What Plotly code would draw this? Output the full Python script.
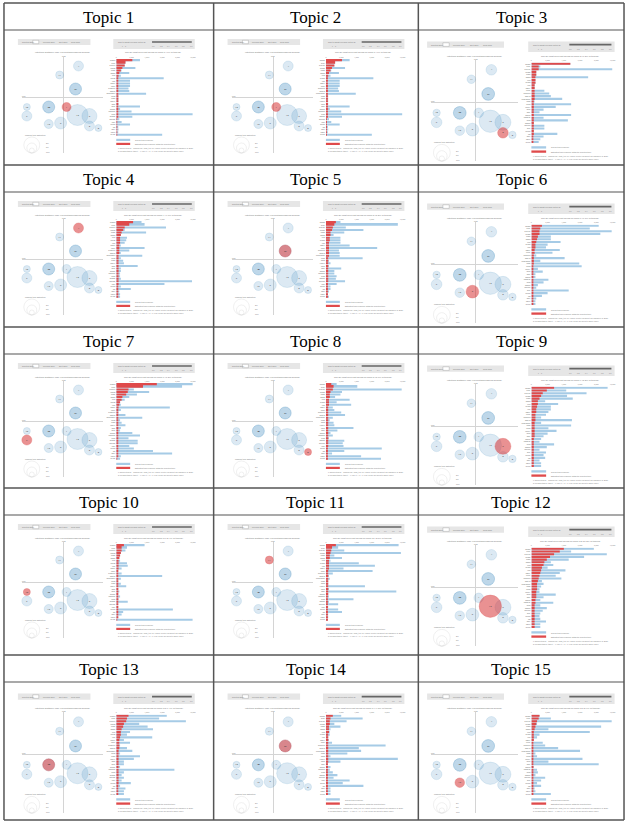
import plotly.graph_objects as go

W, H = 629, 822
COL_L = [3, 214, 420]
COL_R = [214, 420, 627]
ROW_T = [3, 165, 327, 488, 655]
BOTTOM = 820
HEAD_H = 27

HEADERS = [f"Topic {i}" for i in range(1, 16)]
# topic highlighted (red) in each screenshot; panel 2 repeats topic 1's view
SELECTED = [1, 1, 3, 4, 5, 6, 7, 8, 9, 10, 11, 12, 13, 14, 15]
TOKEN_PCT = ["4%", "4%", "6.3%", "4.6%", "5.2%", "6.7%", "7.3%", "5.6%", "8.2%",
             "3.4%", "3.7%", "10.2%", "9.4%", "4.8%", "5.9%"]

# Intertopic distance map (bubble positions in PC units, radii in px)
BUB_TOPIC = [4, 11, 5, 14, 10, 13, 2, 1, 7, 15, 6, 12, 9, 3, 8]
BUB_PC1 = [15, -4, 12, 12, -37, -15, -15, 3, -37, -15, -3, 14, 26, 26, 35]
BUB_PC2 = [31, 22, 8, 8, -10, -10, -10, -10, -19, -27, -26, -18, -19, -29, -31]
BUB_R = [5, 4, 6, 6, 3.5, 6, 6, 4.5, 5, 4.5, 6, 10.5, 7.5, 5, 3.5]

TERMS = ["game", "play", "player", "team", "time", "good", "fun", "great", "like",
         "story", "level", "graphic", "world", "character", "new", "best", "really",
         "love", "way", "make", "control", "first", "mode", "online", "feel",
         "thing", "lot", "well", "hour", "price"]

# bar values (percent of the bar-axis width)
OVERALL_1 = [31, 12, 11, 25, 7, 17, 6, 62, 18, 18, 18, 16, 17, 39, 3, 3, 3, 3, 31, 5, 20, 100, 21, 4, 7, 18, 2, 3, 2, 60]
TOPIC_1 = [21, 12, 11, 8, 6, 4, 3, 2, 2, 2, 2, 2, 2, 2, 1.5, 1.5, 1.5, 1.5, 1.5, 1.5, 1.5, 1.5, 1.5, 1, 1, 1, 1, 1, 1, 1]
OVERALL_2 = [31, 12, 11, 25, 7, 17, 6, 62, 18, 18, 18, 16, 17, 39, 3, 3, 3, 3, 31, 5, 20, 100, 21, 4, 7, 18, 2, 3, 2, 60]
TOPIC_2 = [21, 12, 11, 8, 6, 4, 3, 2, 2, 2, 2, 2, 2, 2, 1.5, 1.5, 1.5, 1.5, 1.5, 1.5, 1.5, 1.5, 1.5, 1, 1, 1, 1, 1, 1, 1]
OVERALL_3 = [48, 11, 100, 6, 6, 70, 5, 5, 4, 4, 16, 22, 24, 38, 4, 49, 30, 15, 10, 49, 15, 45, 3, 16, 16, 3, 32, 15, 11, 9]
TOPIC_3 = [48, 9, 9, 6, 6, 5, 5, 5, 4, 4, 4, 4, 4, 4, 3, 3, 3, 3, 3, 3, 3, 3, 3, 3, 3, 3, 3, 2, 2, 2]
OVERALL_4 = [33, 37, 65, 11, 39, 6, 14, 13, 11, 6, 37, 17, 6, 34, 6, 9, 10, 28, 6, 6, 5, 5, 6, 99, 63, 6, 19, 4, 5, 5]
TOPIC_4 = [22, 17, 11, 9, 7, 6, 5, 5, 5, 4, 4, 4, 4, 3, 3, 3, 3, 3, 3, 3, 3, 3, 3, 3, 3, 2, 2, 2, 2, 2]
OVERALL_5 = [19, 94, 26, 49, 24, 10, 19, 19, 19, 31, 67, 17, 18, 18, 48, 4, 6, 4, 20, 11, 11, 14, 13, 25, 14, 6, 6, 4, 2, 4]
TOPIC_5 = [13, 11, 9, 8, 6, 6, 5, 5, 4, 4, 4, 4, 4, 4, 3, 3, 3, 3, 3, 3, 3, 3, 3, 3, 2, 2, 2, 2, 2, 2]
OVERALL_6 = [83, 72, 99, 85, 24, 24, 36, 20, 18, 35, 26, 6, 41, 11, 59, 62, 8, 14, 5, 5, 21, 15, 8, 6, 46, 20, 13, 6, 5, 5]
TOPIC_6 = [13, 11, 10, 10, 8, 7, 6, 5, 5, 4, 4, 3, 3, 3, 3, 2, 2, 2, 2, 2, 2, 2, 2, 2, 2, 2, 2, 2, 2, 2]
OVERALL_7 = [100, 86, 23, 43, 27, 17, 11, 5, 6, 70, 6, 3, 12, 34, 5, 7, 12, 6, 5, 21, 31, 16, 28, 28, 17, 23, 48, 73, 6, 5]
TOPIC_7 = [53, 35, 16, 15, 13, 8, 7, 5, 4, 3, 2, 2, 2, 2, 2, 2, 2, 2, 2, 2, 2, 2, 2, 2, 2, 2, 2, 2, 2, 1]
OVERALL_8 = [14, 41, 99, 21, 19, 12, 31, 14, 33, 9, 11, 20, 25, 9, 5, 10, 11, 36, 15, 6, 9, 4, 24, 22, 23, 73, 24, 8, 46, 72]
TOPIC_8 = [7, 10, 9, 6, 5, 5, 4, 4, 4, 3, 3, 3, 3, 3, 3, 3, 3, 3, 3, 3, 3, 3, 3, 3, 3, 2, 2, 2, 2, 2]
OVERALL_9 = [94, 43, 68, 44, 51, 17, 33, 24, 24, 21, 18, 12, 50, 12, 49, 21, 31, 20, 15, 12, 10, 28, 19, 10, 18, 15, 17, 10, 12, 12]
TOPIC_9 = [28, 19, 14, 12, 10, 8, 8, 7, 6, 6, 5, 5, 5, 4, 4, 4, 4, 4, 4, 3, 3, 3, 3, 3, 3, 3, 3, 3, 3, 3]
OVERALL_10 = [37, 14, 12, 6, 5, 4, 5, 14, 15, 7, 2, 7, 60, 6, 2, 6, 13, 2, 4, 2, 5, 3, 15, 2, 2, 74, 9, 7, 2, 100]
TOPIC_10 = [10, 7, 7, 6, 5, 4, 3, 3, 3, 3, 2, 2, 2, 2, 2, 2, 2, 2, 2, 2, 2, 2, 2, 2, 2, 2, 2, 2, 2, 1]
OVERALL_11 = [95, 16, 24, 98, 11, 21, 6, 43, 64, 23, 61, 9, 4, 5, 3, 3, 51, 4, 92, 3, 4, 36, 4, 16, 3, 16, 21, 3, 3, 2]
TOPIC_11 = [13, 8, 7, 6, 5, 5, 4, 4, 4, 4, 3, 3, 3, 3, 3, 3, 3, 3, 3, 3, 2, 2, 2, 2, 2, 2, 2, 2, 2, 2]
OVERALL_12 = [77, 49, 93, 65, 46, 24, 27, 20, 42, 35, 30, 37, 13, 15, 12, 10, 10, 30, 15, 11, 27, 11, 19, 14, 11, 10, 11, 18, 11, 11]
TOPIC_12 = [40, 35, 28, 23, 19, 16, 15, 13, 12, 11, 10, 9, 8, 7, 7, 7, 6, 6, 6, 5, 5, 4, 4, 4, 4, 4, 4, 4, 4, 4]
OVERALL_13 = [66, 56, 91, 30, 41, 48, 18, 14, 47, 10, 18, 5, 14, 21, 5, 31, 23, 10, 10, 5, 76, 10, 7, 10, 7, 19, 5, 12, 10, 10]
TOPIC_13 = [16, 14, 13, 10, 9, 7, 6, 6, 5, 4, 4, 4, 4, 3, 3, 3, 3, 3, 3, 3, 3, 3, 3, 3, 3, 3, 2, 2, 2, 2]
OVERALL_14 = [20, 48, 27, 11, 19, 6, 5, 5, 3, 4, 8, 78, 43, 46, 28, 6, 94, 19, 2, 6, 5, 9, 15, 10, 31, 22, 49, 6, 6, 6]
TOPIC_14 = [9, 6, 5, 5, 4, 4, 4, 3, 3, 3, 3, 3, 3, 3, 3, 3, 3, 3, 2, 2, 2, 2, 2, 2, 2, 2, 2, 2, 2, 2]
OVERALL_15 = [10, 24, 99, 7, 86, 21, 72, 10, 7, 3, 14, 17, 33, 60, 5, 7, 63, 21, 83, 3, 7, 8, 5, 17, 12, 7, 12, 4, 5, 24]
TOPIC_15 = [10, 9, 7, 6, 5, 4, 3, 3, 3, 3, 2, 2, 2, 2, 2, 2, 2, 2, 2, 2, 2, 2, 2, 2, 2, 2, 2, 2, 2, 2]

OVERALL = [OVERALL_1, OVERALL_2, OVERALL_3, OVERALL_4, OVERALL_5, OVERALL_6, OVERALL_7, OVERALL_8,
           OVERALL_9, OVERALL_10, OVERALL_11, OVERALL_12, OVERALL_13, OVERALL_14, OVERALL_15]
TOPICV = [TOPIC_1, TOPIC_2, TOPIC_3, TOPIC_4, TOPIC_5, TOPIC_6, TOPIC_7, TOPIC_8,
          TOPIC_9, TOPIC_10, TOPIC_11, TOPIC_12, TOPIC_13, TOPIC_14, TOPIC_15]

BAR_TICKVALS = [0, 20, 40, 60, 80, 100]
BAR_TICKTEXT = ["0", "2,000", "4,000", "6,000", "8,000", "10,000"]
SLIDER_TICKS = ["0.0", "0.2", "0.4", "0.6", "0.8", "1.0"]

BLUE_BUB = "rgba(31,119,180,0.22)"
BLUE_EDGE = "rgba(31,119,180,0.35)"
RED_BUB = "rgba(214,39,40,0.72)"
BAR_BLUE = "#a6cbe6"
BAR_RED = "#df4a4b"
GRAYBAR = "#e6e6e6"
TXT = "#777777"

fig = go.Figure()
shapes, annotations, lay = [], [], {}


def fx(x):
    return x / W


def fy(y):
    return 1 - y / H


def txt(x, y, s, size=2.3, color=TXT, anchor="center", font="Arial"):
    annotations.append(dict(x=fx(x), y=fy(y), xref="paper", yref="paper", text=s,
                            showarrow=False, xanchor=anchor, yanchor="middle",
                            font=dict(size=size, color=color, family=font)))


def rect(x0, y0, x1, y1, fill, line=None, lw=0):
    shapes.append(dict(type="rect", xref="paper", yref="paper", x0=fx(x0), x1=fx(x1),
                       y0=fy(y1), y1=fy(y0), fillcolor=fill,
                       line=dict(color=line or fill, width=lw), layer="below"))


def line(x0, y0, x1, y1, color, w):
    shapes.append(dict(type="line", xref="paper", yref="paper", x0=fx(x0), x1=fx(x1),
                       y0=fy(y0), y1=fy(y1), line=dict(color=color, width=w)))


# table grid
GRID = "#555555"
for t in ROW_T:
    line(COL_L[0], t, COL_R[2], t, GRID, 1.5)
    line(COL_L[0], t + HEAD_H, COL_R[2], t + HEAD_H, GRID, 1.2)
line(COL_L[0], BOTTOM, COL_R[2], BOTTOM, GRID, 1.5)
for x in [COL_L[0], COL_L[1], COL_L[2], COL_R[2]]:
    line(x, ROW_T[0], x, BOTTOM, GRID, 1.5)

for k in range(15):
    col, row = k % 3, k // 3
    x0 = COL_L[col]
    y0 = ROW_T[row] + HEAD_H
    sx, dx = (1.06, -6) if col == 2 else (1.0, 0)
    sy, dy = (1.05, 2) if (col == 2 or row == 4) else (1.0, 0)

    def X(v):
        return x0 + dx + sx * v

    def Y(v):
        return y0 + dy + sy * v

    # header
    txt((COL_L[col] + COL_R[col]) / 2, ROW_T[row] + HEAD_H / 2 + 1, HEADERS[k],
        size=17, color="black", font="Liberation Serif")

    # control bars
    rect(X(14), Y(9), X(87), Y(15), GRAYBAR)
    txt(X(16), Y(12), "Selected Topic:", size=1.8, anchor="left")
    rect(X(29), Y(10.3), X(35), Y(13.7), "white", "#999999", 0.4)
    txt(X(37), Y(12), "Previous Topic", size=1.8, anchor="left")
    txt(X(53), Y(12), "Next Topic", size=1.8, anchor="left")
    txt(X(65), Y(12), "Clear Topic", size=1.8, anchor="left")
    rect(X(110), Y(9), X(192), Y(19), GRAYBAR)
    txt(X(113), Y(12), "Slide to adjust relevance metric:(2)", size=1.8, anchor="left")
    txt(X(117), Y(16), "λ = 1", size=1.8, anchor="left")
    line(X(149), Y(12), X(189), Y(12), "#666666", 1.6)
    for i, s in enumerate(SLIDER_TICKS):
        txt(X(150 + 7.6 * i), Y(16.2), s, size=1.7)

    # titles
    txt(X(59), Y(22.5), "Intertopic Distance Map (via multidimensional scaling)", size=2.3)
    txt(X(150), Y(22.5), f"Top-30 Most Relevant Terms for Topic {SELECTED[k]} ({TOKEN_PCT[k]} of tokens)", size=2.3)

    # scatter (intertopic distance map)
    xs = "" if k == 0 else str(2 * k + 1)
    xb = str(2 * k + 2)
    sel = SELECTED[k]
    order = [i for i in range(len(BUB_TOPIC)) if BUB_TOPIC[i] != sel] + \
            [i for i in range(len(BUB_TOPIC)) if BUB_TOPIC[i] == sel]
    fig.add_trace(go.Scatter(
        x=[BUB_PC1[i] for i in order], y=[BUB_PC2[i] for i in order],
        mode="markers+text", text=[str(BUB_TOPIC[i]) for i in order],
        textfont=dict(size=2.5, color="#333333"), textposition="middle center",
        marker=dict(size=[2 * BUB_R[i] * sx for i in order],
                    color=[RED_BUB if BUB_TOPIC[i] == sel else BLUE_BUB for i in order],
                    line=dict(color=[RED_BUB if BUB_TOPIC[i] == sel else BLUE_EDGE for i in order], width=0.5)),
        cliponaxis=False, hoverinfo="skip", showlegend=False,
        xaxis="x" + xs, yaxis="y" + xs))
    lay["xaxis" + xs] = dict(domain=[fx(X(18)), fx(X(100))], range=[-42, 40], anchor="y" + xs,
                             showgrid=False, zeroline=True, zerolinecolor="#d4d4d4", zerolinewidth=0.7,
                             showticklabels=False, ticks="", showline=False, fixedrange=True)
    lay["yaxis" + xs] = dict(domain=[fy(Y(123)), fy(Y(27))], range=[-56, 40], anchor="x" + xs,
                             showgrid=False, zeroline=True, zerolinecolor="#d4d4d4", zerolinewidth=0.7,
                             showticklabels=False, ticks="", showline=False, fixedrange=True)
    txt(X(16), Y(66), "PC1", size=1.8, anchor="left")
    txt(X(60), Y(26), "PC2", size=1.8)

    # marginal topic distribution legend
    txt(X(19), Y(105), "Marginal topic distribution", size=1.8, anchor="left")
    for r in [2.5, 5, 8]:
        shapes.append(dict(type="circle", xref="paper", yref="paper",
                           x0=fx(X(28 - r)), x1=fx(X(28 + r)), y0=fy(Y(123)), y1=fy(Y(123 - 2 * r)),
                           line=dict(color="#d8d8d8", width=0.4)))
    for lab, yy in zip(["2%", "5%", "10%"], [113, 117, 122]):
        txt(X(40), Y(yy), lab, size=1.8, anchor="left")

    # bar chart
    fig.add_trace(go.Bar(x=OVERALL[k], y=TERMS, orientation="h", marker=dict(color=BAR_BLUE, line=dict(width=0)),
                         hoverinfo="skip", showlegend=False, xaxis="x" + xb, yaxis="y" + xb))
    fig.add_trace(go.Bar(x=TOPICV[k], y=TERMS, orientation="h", marker=dict(color=BAR_RED, line=dict(width=0)),
                         hoverinfo="skip", showlegend=False, xaxis="x" + xb, yaxis="y" + xb))
    lay["xaxis" + xb] = dict(domain=[fx(X(113)), fx(X(190))], range=[0, 100], anchor="y" + xb, side="top",
                             tickvals=BAR_TICKVALS, ticktext=BAR_TICKTEXT, tickfont=dict(size=1.8, color="#888888"),
                             showgrid=False, zeroline=False, showline=False, ticks="", fixedrange=True)
    lay["yaxis" + xb] = dict(domain=[fy(Y(106)), fy(Y(29))], type="category", range=[29.5, -0.5],
                             anchor="x" + xb, tickfont=dict(size=2, color="#666666"), ticks="",
                             showgrid=False, zeroline=False, showline=False, fixedrange=True)

    # bar legend + footnotes
    rect(X(113), Y(108.8), X(127), Y(111), BAR_BLUE)
    txt(X(130), Y(110), "Overall term frequency", size=1.8, anchor="left")
    rect(X(113), Y(112.8), X(127), Y(115), BAR_RED)
    txt(X(130), Y(114), "Estimated term frequency within the selected topic", size=1.8, anchor="left")
    txt(X(113), Y(118.5), "1. saliency(term w) = frequency(w) * [sum_t p(t | w) * log(p(t | w)/p(t))] for topics t; see Chuang et. al (2012)",
        size=1.6, anchor="left")
    txt(X(113), Y(121.5), "2. relevance(term w | topic t) = λ * p(w | t) + (1 - λ) * p(w | t)/p(w); see Sievert & Shirley (2014)",
        size=1.6, anchor="left")

fig.update_layout(**lay)
fig.update_layout(width=W, height=H, margin=dict(l=0, r=0, t=0, b=0),
                  paper_bgcolor="white", plot_bgcolor="rgba(0,0,0,0)",
                  barmode="overlay", bargap=0.22, shapes=shapes, annotations=annotations,
                  showlegend=False)
fig.write_html("out.html", config={"displayModeBar": False},
               post_script="document.body.style.margin='0px';document.body.style.overflow='hidden';")
